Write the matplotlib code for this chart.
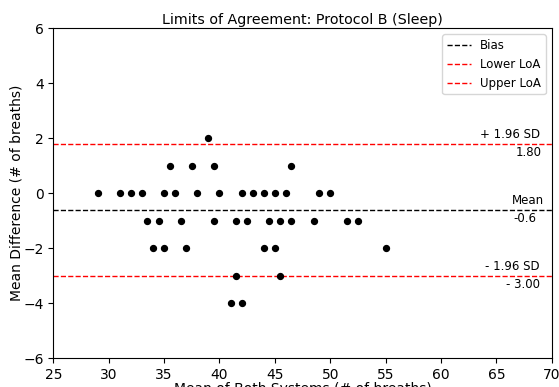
import numpy as np
import matplotlib
matplotlib.use('Agg')
import matplotlib.pyplot as plt
import matplotlib.transforms as mtransforms

# mean of both systems / difference
x_2 = [39]
x_1 = [35.5, 37.5, 39.5, 46.5]
x_0 = [29, 31, 32, 33, 35, 36, 38, 40, 42, 43, 44, 45, 46, 49, 50]
x_m1 = [33.5, 34.5, 36.5, 39.5, 41.5, 42.5, 44.5, 45.5, 46.5, 48.5, 51.5, 52.5]
x_m2 = [34, 35, 37, 44, 45, 55]
x_m3 = [41.5, 45.5]
x_m4 = [41, 42]

means = x_2 + x_1 + x_0 + x_m1 + x_m2 + x_m3 + x_m4
diffs = ([2] * len(x_2) + [1] * len(x_1) + [0] * len(x_0) + [-1] * len(x_m1)
         + [-2] * len(x_m2) + [-3] * len(x_m3) + [-4] * len(x_m4))

bias = -0.6
upper = 1.80
lower = -3.00

fig = plt.figure(figsize=(5.59, 3.87), dpi=100)
ax = fig.add_axes([0.0954, 0.0742, 0.8916, 0.8527])

ax.scatter(means, diffs, s=18, color='black', zorder=3)
ax.axhline(bias, color='black', linestyle='--', linewidth=1, label='Bias')
ax.axhline(lower, color='red', linestyle='--', linewidth=1, label='Lower LoA')
ax.axhline(upper, color='red', linestyle='--', linewidth=1, label='Upper LoA')

trans = mtransforms.blended_transform_factory(ax.transAxes, ax.transData)
off = 0.32
fs = 8.5
ax.text(0.9765, upper + off, '+ 1.96 SD', transform=trans, ha='right', va='center', fontsize=fs)
ax.text(0.9790, upper - off, '1.80', transform=trans, ha='right', va='center', fontsize=fs)
ax.text(0.9846, bias + off, 'Mean', transform=trans, ha='right', va='center', fontsize=fs)
ax.text(0.9690, bias - off, '-0.6', transform=trans, ha='right', va='center', fontsize=fs)
ax.text(0.9765, lower + off, '- 1.96 SD', transform=trans, ha='right', va='center', fontsize=fs)
ax.text(0.9765, lower - off, '- 3.00', transform=trans, ha='right', va='center', fontsize=fs)

ax.set_xlim(25, 70)
ax.set_ylim(-6, 6)
ax.set_title('Limits of Agreement: Protocol B (Sleep)', fontsize=10.3, pad=3)
ax.set_xlabel('Mean of Both Systems (# of breaths)', fontsize=10, labelpad=0)
ax.set_ylabel('Mean Difference (# of breaths)', fontsize=10, labelpad=0)
ax.legend(loc='upper right', fontsize=8.5)

fig.savefig('out.png', dpi=100)
